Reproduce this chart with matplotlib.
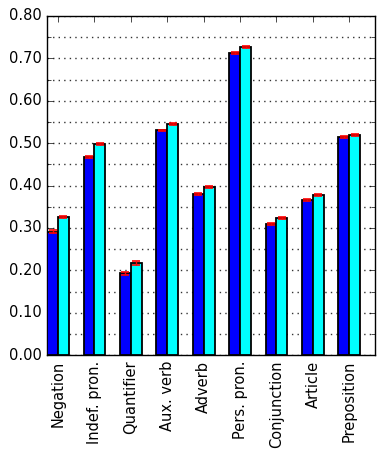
import matplotlib
matplotlib.use('Agg')
import matplotlib.pyplot as plt
import numpy as np
from matplotlib.ticker import MultipleLocator, FormatStrFormatter

categories = ['Negation', 'Indef. pron.', 'Quantifier', 'Aux. verb', 'Adverb',
              'Pers. pron.', 'Conjunction', 'Article', 'Preposition']
series_a = [0.291, 0.468, 0.193, 0.530, 0.380, 0.713, 0.310, 0.366, 0.515]
series_b = [0.326, 0.498, 0.217, 0.546, 0.396, 0.727, 0.323, 0.378, 0.520]
err_a = [0.003, 0.002, 0.003, 0.002, 0.002, 0.002, 0.002, 0.002, 0.002]
err_b = [0.003, 0.002, 0.004, 0.002, 0.002, 0.002, 0.003, 0.002, 0.002]

plt.style.use('classic')
plt.rcParams['font.size'] = 10.5

fig = plt.figure(figsize=(3.86, 4.57), dpi=100, facecolor='white')
ax = fig.add_axes([0.122, 0.223, 0.849, 0.742])

ind = np.arange(len(categories))
width = 0.3
ax.bar(ind - width, series_a, width, align='edge', color='#0000ff',
       edgecolor='black', linewidth=1.3, zorder=3)
ax.bar(ind, series_b, width, align='edge', color='#00ffff',
       edgecolor='black', linewidth=1.3, zorder=3)
ax.errorbar(ind - width / 2, series_a, yerr=err_a, fmt='none', ecolor='red',
            capsize=3, elinewidth=1, capthick=1.2, zorder=4)
ax.errorbar(ind + width / 2, series_b, yerr=err_b, fmt='none', ecolor='red',
            capsize=3, elinewidth=1, capthick=1.2, zorder=4)

ax.set_xlim(-0.3, 8.7)
ax.set_ylim(0, 0.8)
ax.set_xticks(ind)
ax.set_xticklabels(categories, rotation=90)
ax.yaxis.set_major_locator(MultipleLocator(0.1))
ax.yaxis.set_minor_locator(MultipleLocator(0.05))
ax.yaxis.set_major_formatter(FormatStrFormatter('%.2f'))
ax.tick_params(axis='both', which='both', direction='in')
ax.tick_params(axis='y', which='minor', length=3)
ax.grid(True, axis='y', which='both', linestyle=(0, (1, 3)), color='#333333',
        linewidth=1, zorder=0)
ax.set_axisbelow(True)

fig.savefig('out.png', dpi=100, facecolor='white')
